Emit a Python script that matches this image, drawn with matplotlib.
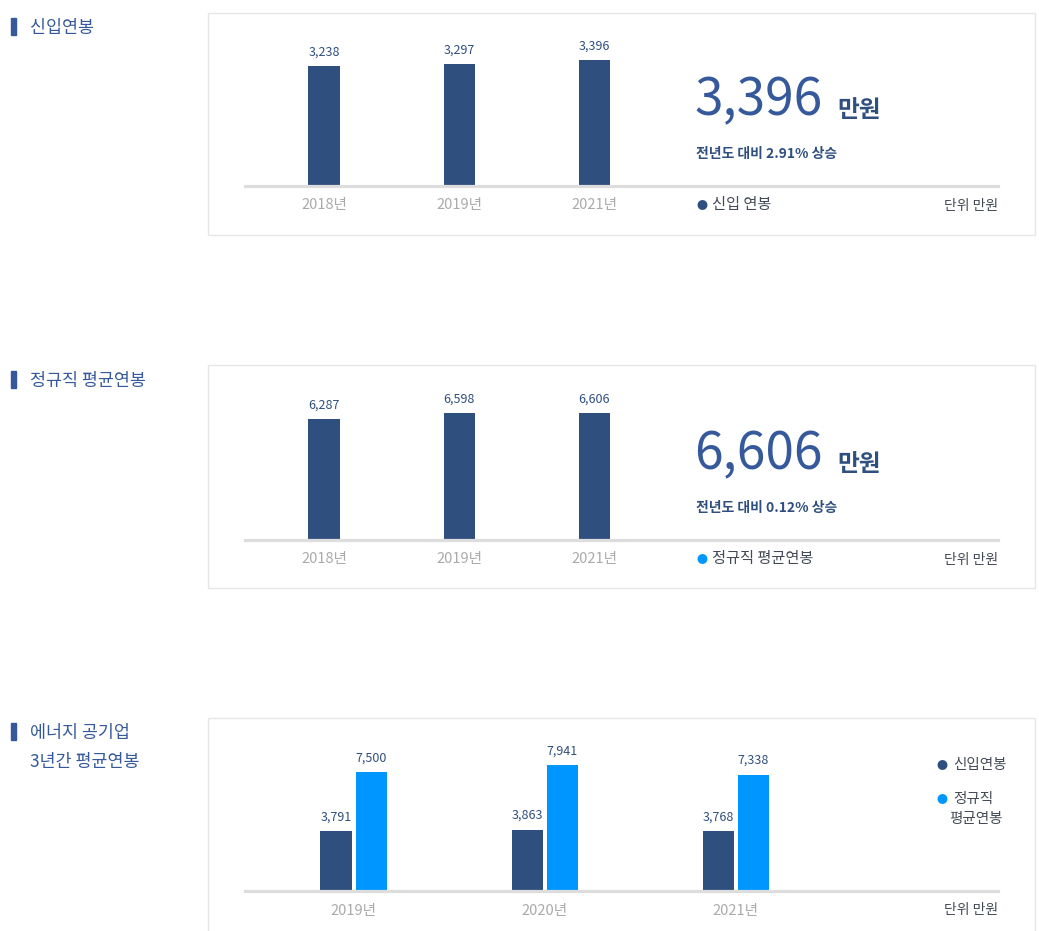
# Salary summary panels (신입연봉 / 정규직 평균연봉 / 에너지 공기업 3년간 평균연봉)
import matplotlib
matplotlib.use("Agg")
import matplotlib.pyplot as plt
from matplotlib.patches import Rectangle

plt.rcParams["font.family"] = ["Noto Sans CJK KR", "DejaVu Sans"]

# ---- data ----
years_a = ["2018년", "2019년", "2021년"]
starting_pay = [3238, 3297, 3396]
regular_pay = [6287, 6598, 6606]

years_b = ["2019년", "2020년", "2021년"]
energy_starting = [3791, 3863, 3768]
energy_regular = [7500, 7941, 7338]

NAVY = "#2f4f7e"
BLUE = "#0096ff"
TITLE_BLUE = "#35599a"
GRAY_TICK = "#aaaaaa"
TEXT_DARK = "#444a55"

W, H = 1039, 931
fig = plt.figure(figsize=(W / 100, H / 100), dpi=100)


def rect(x0, y0, x1, y1):
    # pixel box (top-left origin) -> figure fraction
    return [x0 / W, 1 - y1 / H, (x1 - x0) / W, (y1 - y0) / H]


def ftext(x, y, s, **kw):
    fig.text(x / W, 1 - y / H, s, **kw)


def panel_box(y0, y1):
    fig.patches.append(Rectangle((208 / W, 1 - y1 / H), (1035 - 208) / W, (y1 - y0) / H,
                                 transform=fig.transFigure, fill=False,
                                 edgecolor="#e6e6e6", linewidth=1))


def section_title(y, lines):
    fig.patches.append(Rectangle((11 / W, 1 - (y + 9) / H), 5 / W, 17 / H,
                                 transform=fig.transFigure, color=TITLE_BLUE))
    for i, line in enumerate(lines):
        ftext(30, y + 2 + i * 29, line, fontsize=12.5, color=TITLE_BLUE, va="center")


def style_axes(ax):
    for side in ["left", "right", "top"]:
        ax.spines[side].set_visible(False)
    ax.spines["bottom"].set_color("#dddddd")
    ax.spines["bottom"].set_linewidth(2.3)
    ax.set_yticks([])
    ax.tick_params(axis="x", length=0, pad=9, labelsize=10.5, labelcolor=GRAY_TICK)
    ax.patch.set_alpha(0)


def value_labels(ax, xs, vals):
    for x, v in zip(xs, vals):
        ax.annotate(f"{v:,}", (x, v), xytext=(0, 5.5), textcoords="offset points",
                    ha="center", va="bottom", fontsize=9, color=NAVY)


def single_panel(y_box0, y_box1, base_y, ymax, vals, big, change, legend_label, legend_color):
    panel_box(y_box0, y_box1)
    ax = fig.add_axes(rect(245, base_y - 166, 998, base_y))
    xs = list(range(len(vals)))
    ax.bar(xs, vals, width=0.23, color=NAVY)
    ax.set_xlim(-0.585, 4.99)
    ax.set_ylim(0, ymax)
    ax.set_xticks(xs)
    ax.set_xticklabels(years_a)
    style_axes(ax)
    value_labels(ax, xs, vals)

    ftext(694, base_y - 86, big, fontsize=37, color=TITLE_BLUE, va="center")
    ftext(837, base_y - 76, "만원", fontsize=17, fontweight="bold", color=NAVY, va="center")
    ftext(696, base_y - 32, change, fontsize=10, fontweight="bold", color=NAVY, va="center")
    ftext(702, base_y + 20, "●", fontsize=8, color=legend_color, ha="center", va="center")
    ftext(712, base_y + 18, legend_label, fontsize=11, color=TEXT_DARK, va="center")
    ftext(998, base_y + 20, "단위 만원", fontsize=10, color=TEXT_DARK, ha="right", va="center")


# ---- panel 1 ----
section_title(26, ["신입연봉"])
single_panel(13, 235, 186, 166 / 0.03706, starting_pay,
             f"{starting_pay[-1]:,}", "전년도 대비 2.91% 상승", "신입 연봉", NAVY)

# ---- panel 2 ----
section_title(379, ["정규직 평균연봉"])
single_panel(365, 588, 540, 166 / 0.01925, regular_pay,
             f"{regular_pay[-1]:,}", "전년도 대비 0.12% 상승", "정규직 평균연봉", BLUE)

# ---- panel 3 ----
section_title(731, ["에너지 공기업", "3년간 평균연봉"])
panel_box(718, 950)
ax3 = fig.add_axes(rect(245, 891 - 151, 998, 891))
xs3 = list(range(len(years_b)))
off = 0.092
w = 0.163
ax3.bar([x - off for x in xs3], energy_starting, width=w, color=NAVY)
ax3.bar([x + off for x in xs3], energy_regular, width=w, color=BLUE)
ax3.set_xlim(-0.568, 3.372)
ax3.set_ylim(0, 151 / 0.01587)
ax3.set_xticks(xs3)
ax3.set_xticklabels(years_b)
style_axes(ax3)
value_labels(ax3, [x - off for x in xs3], energy_starting)
value_labels(ax3, [x + off for x in xs3], energy_regular)

ftext(942, 766, "●", fontsize=8, color=NAVY, ha="center", va="center")
ftext(953, 765, "신입연봉", fontsize=10.5, color=TEXT_DARK, va="center")
ftext(942, 800, "●", fontsize=8, color=BLUE, ha="center", va="center")
ftext(953, 799, "정규직", fontsize=10.5, color=TEXT_DARK, va="center")
ftext(949, 819, "평균연봉", fontsize=10.5, color=TEXT_DARK, va="center")
ftext(998, 910, "단위 만원", fontsize=10, color=TEXT_DARK, ha="right", va="center")

fig.savefig("out.png", dpi=100)
